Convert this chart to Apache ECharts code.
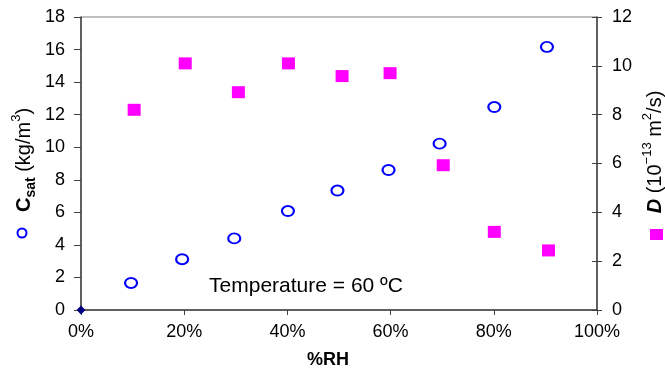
<!DOCTYPE html>
<html>
<head>
<meta charset="utf-8">
<script src="https://cdn.jsdelivr.net/npm/echarts@6/dist/echarts.min.js"></script>
<style>html,body{margin:0;padding:0;background:#fff}#c{width:665px;height:374px}</style>
</head>
<body>
<div id="c"></div>
<script>
const rhCsat = [9.7, 19.6, 29.7, 40.1, 49.7, 59.6, 69.5, 80.1, 90.3];
const csatValues = [1.66, 3.12, 4.40, 6.08, 7.34, 8.6, 10.22, 12.47, 16.16];
const rhD = [10.3, 20.2, 30.5, 40.2, 50.6, 59.9, 70.2, 80.1, 90.6];
const dValues = [8.2, 10.1, 8.92, 10.1, 9.58, 9.7, 5.93, 3.2, 2.44];
const originPoint = [[0, 0]];
const xTicks = [0, 20, 40, 60, 80, 100];
const leftTicks = [0, 2, 4, 6, 8, 10, 12, 14, 16, 18];
const rightTicks = [0, 2, 4, 6, 8, 10, 12];

const FONT = 'Liberation Sans, Arial, sans-serif';
const chart = echarts.init(document.getElementById('c'));
const axisLineStyle = {color: '#404040', width: 1.5};
const labelStyle = {color: '#000', fontFamily: FONT, fontSize: 18};

chart.setOption({
  animation: false,
  grid: {left: 81, right: 68, top: 17, bottom: 61, show: true, borderColor: '#808080', borderWidth: 1},
  xAxis: {
    type: 'value', min: xTicks[0], max: xTicks[xTicks.length - 1], interval: 20,
    axisLine: {lineStyle: axisLineStyle},
    axisTick: {show: true, inside: false, length: 5, lineStyle: {color: '#404040'}},
    axisLabel: Object.assign({formatter: '{value}%', margin: 13}, labelStyle),
    splitLine: {show: false},
    name: '%RH', nameLocation: 'middle', nameGap: 41,
    nameTextStyle: {fontFamily: FONT, fontSize: 18, fontWeight: 'bold', color: '#000', padding: [0, 0, 0, -22]}
  },
  yAxis: [
    {
      type: 'value', min: leftTicks[0], max: leftTicks[leftTicks.length - 1], interval: 2, position: 'left',
      axisLine: {show: true, lineStyle: axisLineStyle},
      axisTick: {show: true, inside: false, length: 7, lineStyle: {color: '#404040'}},
      axisLabel: Object.assign({margin: 16}, labelStyle),
      splitLine: {show: false}
    },
    {
      type: 'value', min: rightTicks[0], max: rightTicks[rightTicks.length - 1], interval: 2, position: 'right',
      axisLine: {show: true, lineStyle: axisLineStyle},
      axisTick: {show: true, inside: false, length: 5, lineStyle: {color: '#404040'}},
      axisLabel: Object.assign({margin: 15}, labelStyle),
      splitLine: {show: false}
    },
    {
      type: 'value', min: rightTicks[0], max: rightTicks[rightTicks.length - 1], interval: 2, position: 'right',
      axisLine: {show: false},
      axisTick: {show: true, inside: true, length: 5, lineStyle: {color: '#404040'}},
      axisLabel: {show: false},
      splitLine: {show: false}
    }
  ],
  series: [
    {
      type: 'scatter', yAxisIndex: 1,
      data: rhD.map((x, i) => [x, dValues[i]]),
      symbol: 'rect', symbolSize: [13, 12],
      itemStyle: {color: '#FF00FF', opacity: 1}
    },
    {
      type: 'scatter', yAxisIndex: 0,
      data: rhCsat.map((x, i) => [x, csatValues[i]]),
      symbol: 'circle', symbolSize: [12, 10],
      itemStyle: {color: '#ffffff', borderColor: '#0000FF', borderWidth: 2, opacity: 1}
    },
    {
      type: 'scatter', yAxisIndex: 0,
      data: originPoint,
      symbol: 'diamond', symbolSize: 9,
      itemStyle: {color: '#000080', opacity: 1}
    }
  ],
  graphic: [
    {
      type: 'text', x: 306, y: 286,
      style: {text: 'Temperature = 60 ºC', font: '21px ' + FONT, fill: '#000', align: 'center', verticalAlign: 'middle'}
    },
    {
      type: 'text', x: 24, y: 160, rotation: Math.PI / 2,
      style: {
        text: '{b|C}{sub|sat}{n| (kg/m}{sup|3}{n|)}',
        align: 'center', verticalAlign: 'middle',
        rich: {
          b: {fontFamily: FONT, fontSize: 20, fontWeight: 'bold', fill: '#000', lineHeight: 28, verticalAlign: 'middle'},
          sub: {fontFamily: FONT, fontSize: 14, fontWeight: 'bold', fill: '#000', lineHeight: 28, verticalAlign: 'bottom'},
          sup: {fontFamily: FONT, fontSize: 13, fill: '#000', lineHeight: 28, verticalAlign: 'top'},
          n: {fontFamily: FONT, fontSize: 20, fill: '#000', lineHeight: 28, verticalAlign: 'middle'}
        }
      }
    },
    {
      type: 'ellipse', shape: {cx: 22, cy: 233, rx: 4.5, ry: 4.5},
      style: {fill: '#fff', stroke: '#0000FF', lineWidth: 2}
    },
    {
      type: 'text', x: 655, y: 152, rotation: Math.PI / 2,
      style: {
        text: '{bi|D}{n| (10}{sup|−13}{n| m}{sup|2}{n|/s)}',
        align: 'center', verticalAlign: 'middle',
        rich: {
          bi: {fontFamily: FONT, fontSize: 20, fontWeight: 'bold', fontStyle: 'italic', fill: '#000', lineHeight: 28, verticalAlign: 'middle'},
          sup: {fontFamily: FONT, fontSize: 13, fill: '#000', lineHeight: 28, verticalAlign: 'top'},
          n: {fontFamily: FONT, fontSize: 20, fill: '#000', lineHeight: 28, verticalAlign: 'middle'}
        }
      }
    },
    {
      type: 'rect', shape: {x: 650, y: 229, width: 13, height: 11},
      style: {fill: '#FF00FF'}
    }
  ]
});
</script>
</body>
</html>
